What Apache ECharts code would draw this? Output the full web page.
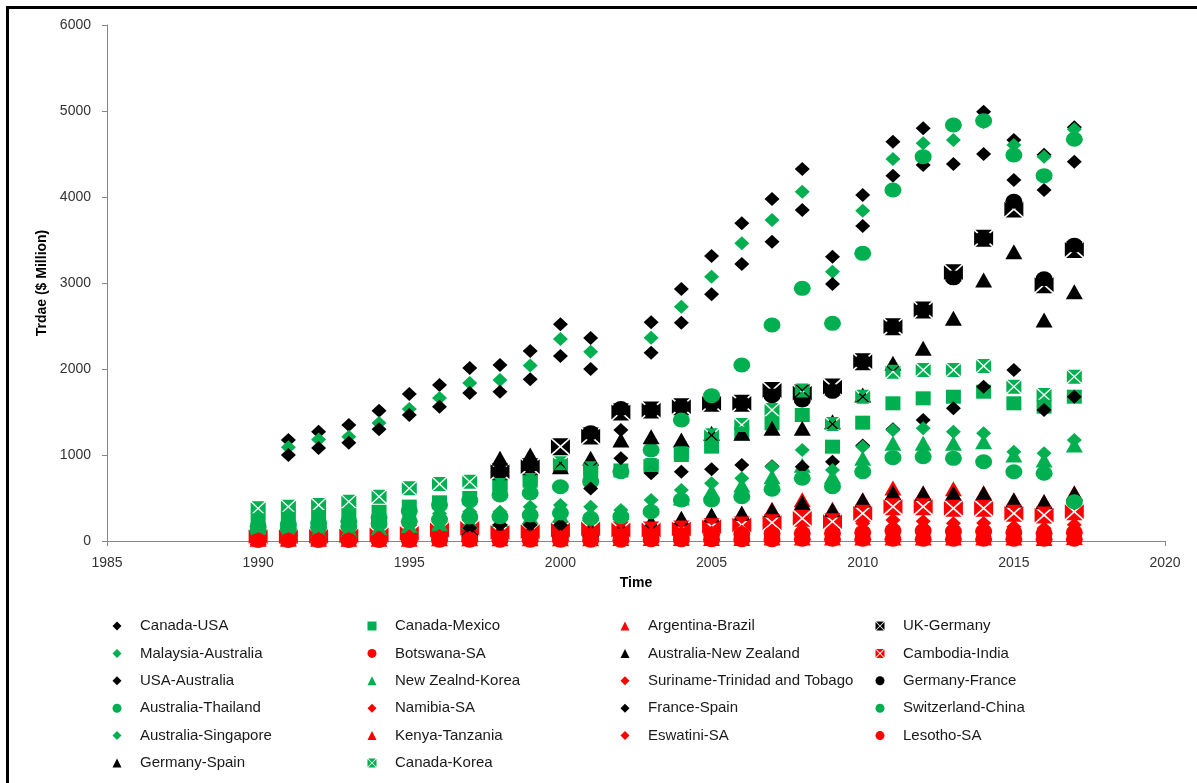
<!DOCTYPE html>
<html>
<head>
<meta charset="utf-8">
<script src="https://cdn.jsdelivr.net/npm/echarts@6/dist/echarts.min.js"></script>
<style>
html,body{margin:0;padding:0;background:#fff;}
#c{width:1197px;height:783px;}
</style>
</head>
<body>
<div id="c"></div>
<script>
// ---------- DATA ----------
const years = [1990,1991,1992,1993,1994,1995,1996,1997,1998,1999,2000,2001,2002,2003,2004,2005,2006,2007,2008,2009,2010,2011,2012,2013,2014,2015,2016,2017];
const xTicks = [1985,1990,1995,2000,2005,2010,2015,2020];
const yTicks = [0,1000,2000,3000,4000,5000,6000];

const canadaUSA          = [null,1174,1271,1349,1515,1709,1814,2012,2047,2210,2520,2360,null,2543,2930,3314,3694,3977,4326,3306,4023,4643,4798,4840,4992,4663,4490,4810];
const canadaMexico       = [240,260,280,300,340,400,450,500,640,700,870,800,820,870,1000,1097,1250,1368,1465,1097,1376,1601,1659,1678,1736,1601,1562,1678];
const argentinaBrazil    = [40,50,50,60,70,80,90,160,130,130,140,160,180,210,250,290,320,370,480,370,480,616,560,608,560,480,460,560];
const ukGermany          = [null,null,null,null,null,null,null,null,806,864,1097,1220,1500,1523,1562,1601,1601,1750,1720,1790,2085,2492,2686,3120,3520,3860,2980,3390];
const malaysiaAustralia  = [null,1090,1180,1213,1372,1535,1663,1837,1872,2040,2350,2200,null,2364,2725,3074,3461,3733,4062,3131,3841,4442,4624,4663,4870,4605,4469,4787];
const botswanaSA         = [30,30,35,35,40,45,50,50,55,55,60,60,65,70,70,75,80,85,90,90,100,120,120,110,110,100,90,100];
const australiaNZ        = [null,null,null,null,null,null,null,150,110,110,120,130,150,220,264,302,322,360,445,360,477,562,554,554,554,477,457,554];
const cambodiaIndia      = [50,50,55,60,70,89,128,147,100,110,128,140,128,128,140,166,186,213,264,225,322,399,399,380,380,322,302,341];
const usaAustralia       = [null,1000,1081,1143,1299,1465,1562,1721,1736,1880,2150,2000,1290,2190,2539,2868,3221,3481,3849,2988,3663,4248,4372,4384,4500,4198,4081,4411];
const newZealndKorea     = [100,110,120,130,150,180,200,220,250,280,300,320,330,400,500,580,651,748,880,750,962,1136,1136,1136,1155,1000,942,1116];
const surinameTT         = [10,10,15,15,15,20,20,20,25,25,25,30,30,30,35,35,40,40,45,45,50,60,60,60,60,55,50,60];
const germanyFrance      = [null,null,null,null,null,null,null,null,806,880,null,1260,1540,1523,1562,1601,1601,1690,1640,1740,2085,2492,2686,3060,3520,3950,3050,3440];
const australiaThailand  = [170,190,210,230,270,350,420,470,535,558,631,690,806,1058,1407,1690,2047,2512,2938,2531,3345,4081,4469,4837,4887,4488,4248,4671];
const namibiaSA          = [40,40,45,45,50,55,60,65,70,70,75,80,85,90,95,100,110,120,128,130,206,244,230,206,210,166,147,190];
const franceSpain        = [null,null,null,null,null,null,null,150,186,186,186,610,962,787,806,835,884,870,864,922,1110,1300,1407,1543,1795,1988,1523,1678];
const switzerlandChina   = [120,140,160,170,200,230,250,280,283,302,325,264,283,341,477,477,515,601,729,631,806,969,980,961,922,806,787,457];
const australiaSingapore = [150,170,190,200,240,290,320,340,341,399,419,399,360,477,593,671,729,864,1058,826,1097,1291,1310,1271,1252,1038,1020,1174];
const kenyaTanzania      = [20,20,20,20,20,20,25,25,25,25,25,25,30,30,30,30,30,35,35,35,35,35,35,35,35,35,30,40];
const eswatiniSA         = [20,20,25,25,30,35,40,40,45,45,50,50,55,60,60,70,75,80,90,90,120,166,160,150,150,120,110,130];
const lesothoSA          = [5,5,5,5,5,5,10,10,10,10,10,10,10,15,15,15,15,15,20,20,20,20,20,20,20,20,20,20];
const germanySpain       = [null,null,null,null,null,null,null,null,962,1000,864,962,1174,1213,1174,1252,1252,1310,1310,1387,1698,2066,2240,2589,3035,3364,2570,2899];
const canadaKorea        = [380,399,419,457,515,612,663,690,651,709,903,845,null,884,1020,1230,1349,1523,1750,1360,1678,1969,1988,1988,2035,1795,1698,1911];

// ---------- STYLE TABLE ----------
const GREEN = '#00B050', RED = '#FF0000', BLACK = '#000000';
const ELLIPSE = 'path://M0,10 A10,10 0 1,1 20,10 A10,10 0 1,1 0,10 Z';
const XBOX = 'path://M1.3,0 L18.7,0 L10,8.7 Z M20,1.3 L20,18.7 L11.3,10 Z M18.7,20 L1.3,20 L10,11.3 Z M0,18.7 L0,1.3 L8.7,10 Z';
const SHAPES = {
  diamond:  {symbol: 'diamond',  size: [15, 14], icon: 'diamond'},
  square:   {symbol: 'rect',     size: [15, 14], icon: 'rect'},
  triangle: {symbol: 'triangle', size: [17, 15], icon: 'triangle'},
  circle:   {symbol: ELLIPSE,    size: [17, 15], icon: 'circle'},
  xbox:     {symbol: XBOX,       size: [19, 17], icon: XBOX},
  xboxS:    {symbol: XBOX,       size: [15, 14], icon: XBOX}
};

const seriesDefs = [
  ['Canada-USA', canadaUSA, 'diamond', BLACK],
  ['Canada-Mexico', canadaMexico, 'square', GREEN],
  ['Argentina-Brazil', argentinaBrazil, 'triangle', RED],
  ['UK-Germany', ukGermany, 'xbox', BLACK],
  ['Malaysia-Australia', malaysiaAustralia, 'diamond', GREEN],
  ['Botswana-SA', botswanaSA, 'circle', RED],
  ['Australia-New Zealand', australiaNZ, 'triangle', BLACK],
  ['Cambodia-India', cambodiaIndia, 'xbox', RED],
  ['USA-Australia', usaAustralia, 'diamond', BLACK],
  ['New Zealnd-Korea', newZealndKorea, 'triangle', GREEN],
  ['Suriname-Trinidad and Tobago', surinameTT, 'diamond', RED],
  ['Germany-France', germanyFrance, 'circle', BLACK],
  ['Australia-Thailand', australiaThailand, 'circle', GREEN],
  ['Namibia-SA', namibiaSA, 'diamond', RED],
  ['France-Spain', franceSpain, 'diamond', BLACK],
  ['Switzerland-China', switzerlandChina, 'circle', GREEN],
  ['Australia-Singapore', australiaSingapore, 'diamond', GREEN],
  ['Kenya-Tanzania', kenyaTanzania, 'triangle', RED],
  ['Eswatini-SA', eswatiniSA, 'diamond', RED],
  ['Lesotho-SA', lesothoSA, 'circle', RED],
  ['Germany-Spain', germanySpain, 'triangle', BLACK],
  ['Canada-Korea', canadaKorea, 'xboxS', GREEN]
];

const series = seriesDefs.map(([name, vals, shape, color]) => ({
  name: name,
  type: 'scatter',
  symbol: SHAPES[shape].symbol,
  symbolSize: SHAPES[shape].size,
  itemStyle: {color: color, opacity: 1},
  clip: false,
  emphasis: {disabled: true},
  data: years.map((y, i) => [y, vals[i]]).filter(d => d[1] !== null)
}));

// legend: 4 columns, filled row by row
const colLefts = [112.5, 367.5, 620.5, 875.5];
const legends = colLefts.map((left, c) => ({
  orient: 'vertical',
  left: left,
  top: 618,
  padding: 0,
  itemWidth: 9,
  itemHeight: 9,
  itemGap: 11.4,
  selectedMode: false,
  textStyle: {fontFamily: 'Liberation Sans', fontSize: 15, color: '#1a1a1a', lineHeight: 16, padding: [0, 0, 0, 13.5]},
  data: seriesDefs.filter((d, i) => i % 4 === c).map(d => ({
    name: d[0], icon: SHAPES[d[2]].icon, itemStyle: {color: d[3]}
  }))
}));

const axisGray = '#868686';
const plain = v => String(v);
const option = {
  animation: false,
  backgroundColor: '#ffffff',
  grid: {left: 107, right: 32, top: 25, bottom: 242, containLabel: false, outerBoundsMode: 'none'},
  xAxis: {
    type: 'value', min: xTicks[0], max: xTicks[xTicks.length - 1], interval: 5,
    axisLine: {show: true, onZero: false, lineStyle: {color: axisGray, width: 1}},
    axisTick: {show: true, length: 5, lineStyle: {color: axisGray}},
    splitLine: {show: false},
    axisLabel: {color: '#333', fontSize: 14, fontFamily: 'Liberation Sans', margin: 15, formatter: plain},
    name: 'Time', nameLocation: 'middle', nameGap: 35,
    nameTextStyle: {fontWeight: 'bold', fontSize: 14, color: '#000', fontFamily: 'Liberation Sans'}
  },
  yAxis: {
    type: 'value', min: yTicks[0], max: yTicks[yTicks.length - 1], interval: 1000,
    axisLine: {show: true, onZero: false, lineStyle: {color: axisGray, width: 1}},
    axisTick: {show: true, length: 5, lineStyle: {color: axisGray}},
    splitLine: {show: false},
    axisLabel: {color: '#333', fontSize: 14, fontFamily: 'Liberation Sans', margin: 16, formatter: plain},
    name: 'Trdae ($ Million)', nameLocation: 'middle', nameGap: 54, nameRotate: 90,
    nameTextStyle: {fontWeight: 'bold', fontSize: 14, color: '#000', fontFamily: 'Liberation Sans'}
  },
  legend: legends,
  graphic: [
    {type: 'rect', shape: {x: 6, y: 6, width: 3, height: 777}, style: {fill: '#000'}, silent: true},
    {type: 'rect', shape: {x: 6, y: 6, width: 1191, height: 3}, style: {fill: '#000'}, silent: true}
  ],
  series: series
};

const chart = echarts.init(document.getElementById('c'), null, {renderer: 'canvas'});
chart.setOption(option);
</script>
</body>
</html>
